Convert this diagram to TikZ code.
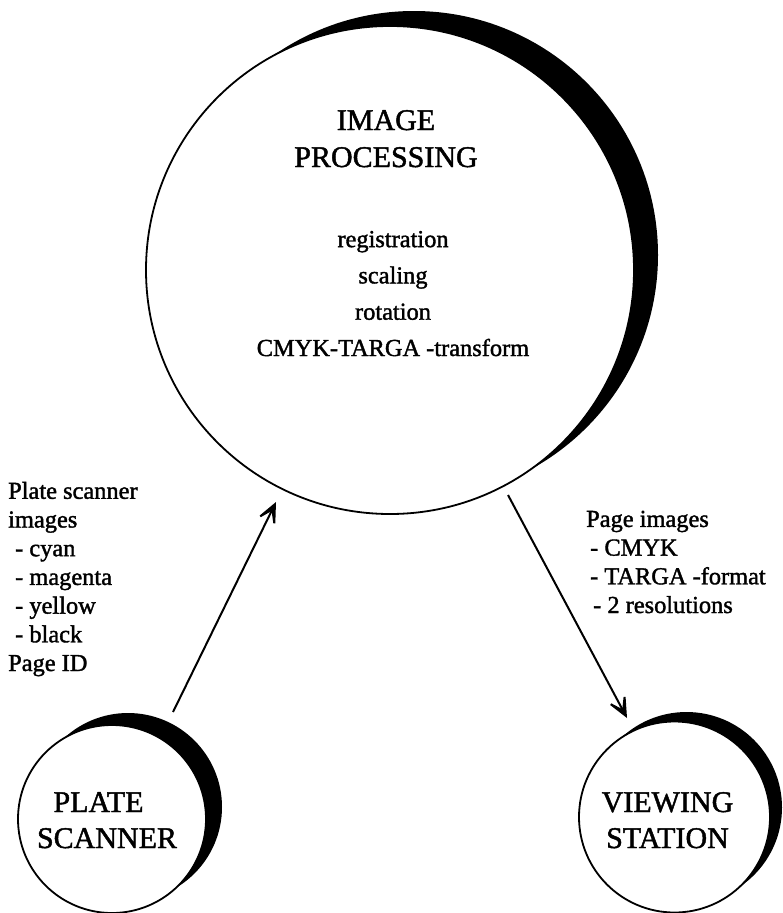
\documentclass[tikz,border=0pt]{standalone}
\usepackage{fontspec}
\setmainfont{Liberation Serif}[FakeBold=1.5]
\usetikzlibrary{arrows.meta}
\begin{document}
\begin{tikzpicture}[x=1pt,y=-1pt,
  ring/.style={circle, draw=black, line width=1.8pt, fill=white, inner sep=0pt},
  shade/.style={circle, fill=black, inner sep=0pt},
  title/.style={font=\fontsize{30}{37}\selectfont, inner sep=0pt, align=center, anchor=base},
  listc/.style={font=\fontsize{24.4}{36.3}\selectfont, inner sep=0pt, align=center, anchor=base},
  listl/.style={font=\fontsize{24.4}{28.7}\selectfont, inner sep=0pt, align=left, anchor=base west},
  arr/.style={line width=2pt, -{Stealth[length=30pt,width=27pt,inset=20pt]}}]
\useasboundingbox (0,0) rectangle (782,913);
% image processing
\node[shade, minimum size=488pt] (ipshade) at (414,255) {};
\node[ring, minimum size=488pt] (ip) at (390,270) {};
\node[title] (iptitle) at (386,167) {IMAGE\\PROCESSING};
\node[listc] (iplist) at (393,356) {registration\\scaling\\rotation\\CMYK-TARGA -transform};
% plate scanner
\node[shade, minimum size=188pt] (psshade) at (128,807) {};
\node[ring, minimum size=188pt] (ps) at (112,819) {};
\node[title] (ps1) at (98.5,812) {PLATE};
\node[title] (ps2) at (107,848) {SCANNER};
% viewing station
\node[shade, minimum size=191pt] (vsshade) at (686.5,807.5) {};
\node[ring, minimum size=191pt] (vs) at (674.5,817) {};
\node[title] (vs1) at (667.5,812) {VIEWING};
\node[title] (vs2) at (667.5,848) {STATION};
% labels
\node[listl] (lefttext) at (8,671) {Plate scanner\\images\\\hspace*{7pt}- cyan\\\hspace*{7pt}- magenta\\\hspace*{7pt}- yellow\\\hspace*{7pt}- black\\Page ID};
\node[listl] (righttext) at (586,613) {Page images\\\hspace*{4pt}- CMYK\\\hspace*{4pt}- TARGA -format\\\hspace*{7pt}- 2 resolutions};
% connectors
\coordinate (a1s) at (173,712);
\coordinate (a1e) at (276,502);
\coordinate (a2s) at (508,495);
\coordinate (a2e) at (627,718);
\draw[arr] (a1s) -- (a1e);
\draw[arr] (a2s) -- (a2e);
\end{tikzpicture}
\end{document}
